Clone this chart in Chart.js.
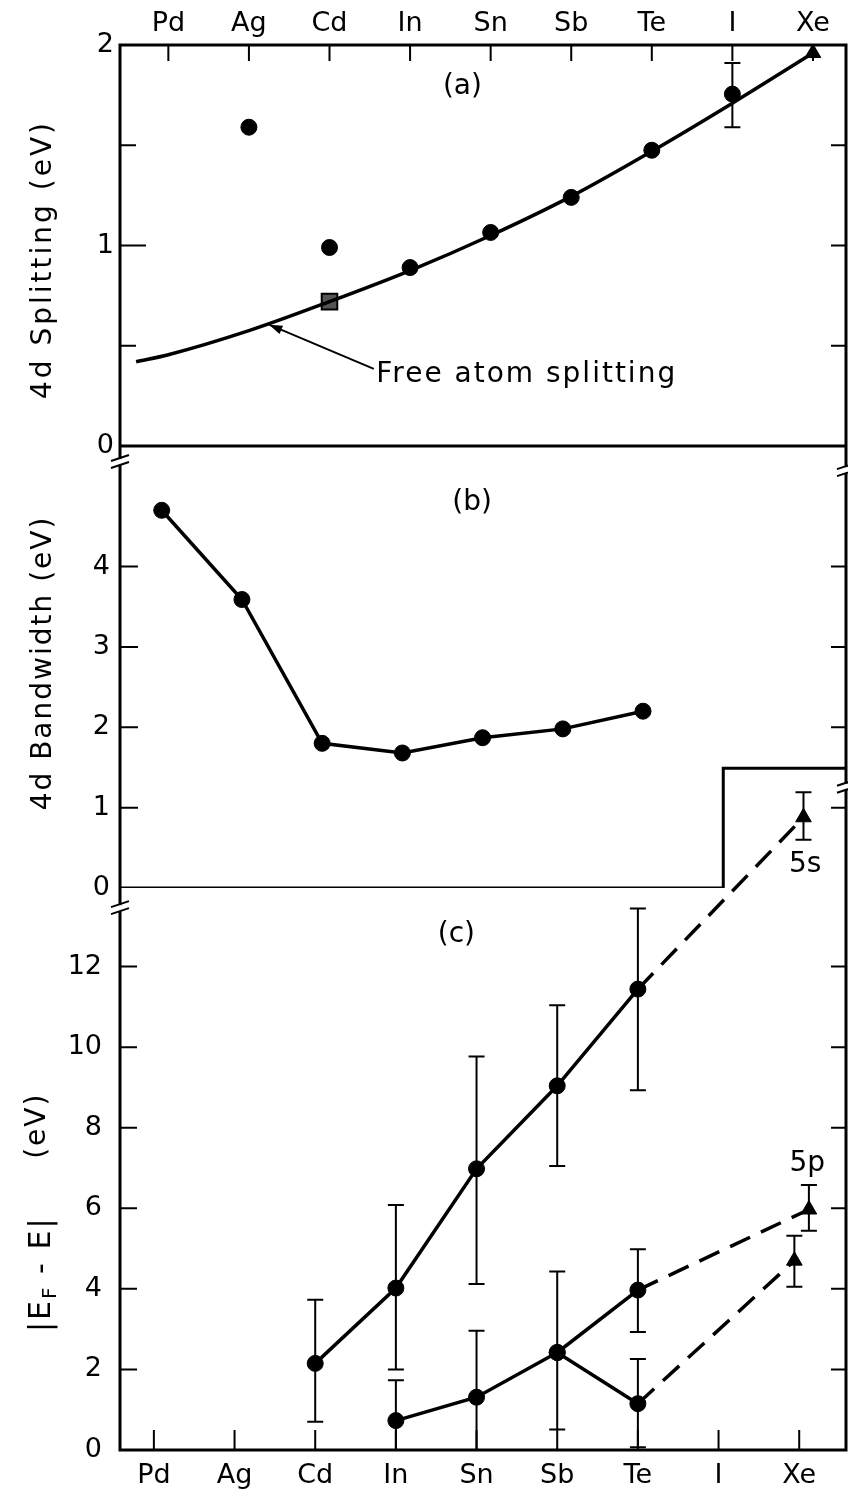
<!DOCTYPE html>
<html>
<head>
<meta charset="utf-8">
<title>4d splitting, 4d bandwidth and |EF - E|</title>
<script src="https://cdn.jsdelivr.net/npm/chart.js@4.4.1/dist/chart.umd.min.js"></script>
<style>
  html, body { margin: 0; padding: 0; background: #fff; overflow: hidden; }
  #wrap { width: 848px; height: 1496px; }
  canvas { display: block; }
</style>
</head>
<body>
<div id="wrap"><canvas id="chart"></canvas></div>
<script>
/* ─────────────────────────────────────────────
   DATA
───────────────────────────────────────────── */
const elements = ['Pd', 'Ag', 'Cd', 'In', 'Sn', 'Sb', 'Te', 'I', 'Xe'];

// (a) 4d splitting, eV
const splitX    = [1, 2, 3, 4, 5, 6, 7];
const splitY    = [1.59, 0.99, 0.89, 1.065, 1.24, 1.475, 1.755];
const splitLo   = [null, null, null, null, null, null, 1.59];
const splitHi   = [null, null, null, null, null, null, 1.91];
const cdSquareX = [2];
const cdSquareY = [0.72];
const xeSplitX  = [8];
const xeSplitY  = [1.96];
const freeAtomX = [-0.4, 0, 1, 2, 3, 4, 5, 6, 7, 8];
const freeAtomY = [0.42, 0.455, 0.575, 0.72, 0.875, 1.05, 1.245, 1.47, 1.71, 1.96];

// (b) 4d bandwidth, eV
const bandX  = [0, 1, 2, 3, 4, 5, 6];
const bandY  = [4.70, 3.59, 1.80, 1.68, 1.87, 1.98, 2.20];
const xe5sX  = [8];
const xe5sY  = [0.88];
const xe5sLo = [0.60];
const xe5sHi = [1.19];
const edgeX  = [-1, 7, 7, 9];
const edgeY  = [0, 0, 1.49, 1.49];

// (c) |EF - E|, eV
const upperX   = [2, 3, 4, 5, 6];
const upperY   = [2.15, 4.02, 6.98, 9.04, 11.44];
const upperLo  = [0.70, 2.00, 4.12, 7.05, 8.93];
const upperHi  = [3.73, 6.08, 9.77, 11.04, 13.44];
const lowerX   = [3, 4, 5, 6];
const lowerY   = [0.73, 1.31, 2.42, 1.15];
const lowerLo  = [-0.27, -0.34, 0.51, 0.07];
const lowerHi  = [1.73, 2.96, 4.43, 2.26];
const branchX  = [5, 6];
const branchY  = [2.42, 3.97];
const branchLo = [null, 2.93];
const branchHi = [null, 4.98];
const xe5pX    = [8.12, 7.94];
const xe5pY    = [5.97, 4.70];
const xe5pLo   = [5.44, 4.05];
const xe5pHi   = [6.58, 5.32];

/* ─────────────────────────────────────────────
   STYLE
───────────────────────────────────────────── */
const INK = '#000';
const FONT = '"DejaVu Sans", sans-serif';
const DASH = [22, 12];
const LINE = 3.5;

const notes = [
  { text: '(a)', x: 3.65, y: 1.79, xAxis: 'xTop', yAxis: 'yA' },
  { text: '(b)', x: 3.87, y: 4.80, xAxis: 'xMid', yAxis: 'yB' },
  { text: '(c)', x: 3.75, y: 12.8, xAxis: 'x', yAxis: 'yC' },
  { text: '5s', x: 8.02, y: 0.29, xAxis: 'xMid', yAxis: 'yB' },
  { text: '5p', x: 8.10, y: 7.10, xAxis: 'x', yAxis: 'yC' },
  { text: 'Free atom splitting', x: 2.58, y: 0.355, xAxis: 'xTop', yAxis: 'yA', align: 'left', spacing: '2px' },
];
const arrow = { from: [2.55, 0.385], to: [1.25, 0.605], xAxis: 'xTop', yAxis: 'yA' };
const breaks = [
  { side: 'left', axis: 'yB', at: 5.3 },
  { side: 'left', axis: 'yC', at: 13.45 },
  { side: 'right', axis: 'yB', at: 5.2 },
  { side: 'right', axis: 'yB', at: 1.26 },
];

/* ─────────────────────────────────────────────
   HELPERS
───────────────────────────────────────────── */
const pts = (xs, ys) => xs.map((x, i) => ({ x, y: ys[i] }));

function marks(xs, ys, extra) {
  return Object.assign({
    data: pts(xs, ys),
    showLine: false,
    pointStyle: 'circle',
    pointRadius: 8,
    pointBackgroundColor: INK,
    pointBorderColor: INK,
    pointBorderWidth: 1,
    borderColor: INK,
    borderWidth: LINE,
  }, extra);
}

function drawBreak(ctx, x, y) {
  ctx.save();
  ctx.fillStyle = '#fff';
  ctx.fillRect(x - 3, y - 3, 6, 6);
  ctx.strokeStyle = INK;
  ctx.lineWidth = 2;
  ctx.beginPath();
  ctx.moveTo(x - 9, y - 1); ctx.lineTo(x + 9, y - 7);
  ctx.moveTo(x - 9, y + 6); ctx.lineTo(x + 9, y);
  ctx.stroke();
  ctx.restore();
}

const panelPlugin = {
  id: 'panels',
  beforeDatasetsDraw(chart) {
    const { ctx, chartArea: a, scales } = chart;
    ctx.save();
    ctx.beginPath();
    ctx.rect(a.left, a.top, a.right - a.left, a.bottom - a.top);
    ctx.clip();
    ctx.strokeStyle = INK;

    // error bars
    ctx.lineWidth = 2;
    chart.data.datasets.forEach((ds, i) => {
      if (!ds.errLo) return;
      const ys = scales[ds.yAxisID];
      chart.getDatasetMeta(i).data.forEach((pt, j) => {
        if (ds.errLo[j] == null) return;
        const y1 = ys.getPixelForValue(ds.errLo[j]);
        const y2 = ys.getPixelForValue(ds.errHi[j]);
        ctx.beginPath();
        ctx.moveTo(pt.x, y1); ctx.lineTo(pt.x, y2);
        ctx.moveTo(pt.x - 8, y1); ctx.lineTo(pt.x + 8, y1);
        ctx.moveTo(pt.x - 8, y2); ctx.lineTo(pt.x + 8, y2);
        ctx.stroke();
      });
    });

    // dashed link from Te (c) up to the Xe 5s level (b)
    ctx.lineWidth = LINE;
    ctx.setLineDash(DASH);
    ctx.beginPath();
    ctx.moveTo(scales.x.getPixelForValue(upperX[4]), scales.yC.getPixelForValue(upperY[4]));
    ctx.lineTo(scales.xMid.getPixelForValue(xe5sX[0]), scales.yB.getPixelForValue(xe5sY[0]));
    ctx.stroke();
    ctx.restore();
  },
  afterDraw(chart) {
    const { ctx, chartArea: a, scales } = chart;
    ctx.save();
    ctx.strokeStyle = INK;
    ctx.fillStyle = INK;

    // frame + (a)/(b) divider
    ctx.lineWidth = 3;
    ctx.beginPath();
    ctx.rect(a.left, a.top, a.right - a.left, a.bottom - a.top);
    const y0 = scales.yA.getPixelForValue(0);
    ctx.moveTo(a.left, y0); ctx.lineTo(a.right, y0);
    ctx.stroke();

    // inward tick marks
    ctx.lineWidth = 2;
    ctx.beginPath();
    const lens = { yA: [26, 16], yB: [18, 18], yC: [17, 17] };
    ['yA', 'yB', 'yC'].forEach((id) => {
      const s = scales[id];
      s.ticks.forEach((t) => {
        if (t.value <= s.min || t.value >= s.max) return;
        const y = s.getPixelForValue(t.value);
        const len = Number.isInteger(t.value) ? lens[id][0] : lens[id][1];
        ctx.moveTo(a.left, y); ctx.lineTo(a.left + len, y);
        ctx.moveTo(a.right, y); ctx.lineTo(a.right - 15, y);
      });
    });
    scales.xTop.ticks.forEach((t) => {
      const x = scales.xTop.getPixelForValue(t.value);
      ctx.moveTo(x, a.top); ctx.lineTo(x, a.top + 16);
    });
    scales.x.ticks.forEach((t) => {
      const x = scales.x.getPixelForValue(t.value);
      ctx.moveTo(x, a.bottom); ctx.lineTo(x, a.bottom - 20);
    });
    ctx.stroke();

    // axis breaks
    breaks.forEach((b) => {
      drawBreak(ctx, b.side === 'left' ? a.left : a.right, scales[b.axis].getPixelForValue(b.at));
    });

    // annotations
    ctx.font = `28px ${FONT}`;
    ctx.textBaseline = 'middle';
    notes.forEach((n) => {
      ctx.textAlign = n.align || 'center';
      ctx.letterSpacing = n.spacing || '0px';
      ctx.fillText(n.text, scales[n.xAxis].getPixelForValue(n.x), scales[n.yAxis].getPixelForValue(n.y));
    });
    ctx.letterSpacing = '0px';

    // arrow to the free atom curve
    const ax = scales[arrow.xAxis], ay = scales[arrow.yAxis];
    const x1 = ax.getPixelForValue(arrow.from[0]), y1 = ay.getPixelForValue(arrow.from[1]);
    const x2 = ax.getPixelForValue(arrow.to[0]),   y2 = ay.getPixelForValue(arrow.to[1]);
    const ang = Math.atan2(y2 - y1, x2 - x1);
    ctx.lineWidth = 2;
    ctx.beginPath(); ctx.moveTo(x1, y1); ctx.lineTo(x2, y2); ctx.stroke();
    ctx.beginPath();
    ctx.moveTo(x2, y2);
    ctx.lineTo(x2 - 14 * Math.cos(ang - 0.33), y2 - 14 * Math.sin(ang - 0.33));
    ctx.lineTo(x2 - 14 * Math.cos(ang + 0.33), y2 - 14 * Math.sin(ang + 0.33));
    ctx.closePath(); ctx.fill();

    // rotated axis titles
    const tx = a.left - 76;
    ctx.textAlign = 'center';
    ctx.textBaseline = 'middle';
    ctx.font = `28px ${FONT}`;
    [['4d Splitting (eV)', 'yA', 0.93, '3px'], ['4d Bandwidth (eV)', 'yB', 2.8, '2px']].forEach(([txt, id, at, sp]) => {
      ctx.save();
      ctx.letterSpacing = sp;
      ctx.translate(tx, scales[id].getPixelForValue(at));
      ctx.rotate(-Math.PI / 2);
      ctx.fillText(txt, 0, 0);
      ctx.restore();
    });

    // |E_F - E|   (eV) with subscript F
    ctx.save();
    ctx.translate(tx - 2, scales.yC.getPixelForValue(5.9));
    ctx.rotate(-Math.PI / 2);
    ctx.textAlign = 'left';
    ctx.letterSpacing = '2px';
    const parts = [['|E', 30, 0], ['F', 20, 9], [' - E|', 30, 0], ['     ', 30, 0], ['(eV)', 28, -4]];
    const widths = parts.map(([t, sz]) => { ctx.font = `${sz}px ${FONT}`; return ctx.measureText(t).width; });
    let cx = -widths.reduce((s, w) => s + w, 0) / 2;
    parts.forEach(([t, sz, dy], i) => {
      ctx.font = `${sz}px ${FONT}`;
      ctx.fillText(t, cx, dy);
      cx += widths[i];
    });
    ctx.restore();

    ctx.restore();
  },
};

/* ─────────────────────────────────────────────
   CHART
───────────────────────────────────────────── */
const elementTicks = (scale) => { scale.ticks = elements.map((_, i) => ({ value: i })); };
const elementLabel = (v) => (Number.isInteger(v) ? elements[v] || '' : '');
const tickFont = { family: FONT, size: 27 };
const noSidePad = (h) => (s) => { s.height = h; s.paddingLeft = 0; s.paddingRight = 0; };

new Chart(document.getElementById('chart'), {
  type: 'scatter',
  data: {
    datasets: [
      // (a)
      marks(freeAtomX, freeAtomY, { xAxisID: 'xTop', yAxisID: 'yA', showLine: true, pointRadius: 0, cubicInterpolationMode: 'monotone' }),
      marks(splitX, splitY, { xAxisID: 'xTop', yAxisID: 'yA', errLo: splitLo, errHi: splitHi }),
      marks(cdSquareX, cdSquareY, { xAxisID: 'xTop', yAxisID: 'yA', pointStyle: 'rect', pointRadius: 11, pointBackgroundColor: '#555', pointBorderWidth: 2 }),
      marks(xeSplitX, xeSplitY, { xAxisID: 'xTop', yAxisID: 'yA', pointStyle: 'triangle', pointRadius: 9, clip: false }),
      // (b)
      marks(edgeX, edgeY, { xAxisID: 'xMid', yAxisID: 'yB', showLine: true, pointRadius: 0, borderWidth: 3 }),
      marks(bandX, bandY, { xAxisID: 'xMid', yAxisID: 'yB', showLine: true }),
      marks(xe5sX, xe5sY, { xAxisID: 'xMid', yAxisID: 'yB', pointStyle: 'triangle', pointRadius: 9, errLo: xe5sLo, errHi: xe5sHi }),
      // (c)
      marks(upperX, upperY, { xAxisID: 'x', yAxisID: 'yC', showLine: true, errLo: upperLo, errHi: upperHi }),
      marks(lowerX, lowerY, { xAxisID: 'x', yAxisID: 'yC', showLine: true, errLo: lowerLo, errHi: lowerHi }),
      marks(branchX, branchY, { xAxisID: 'x', yAxisID: 'yC', showLine: true, errLo: branchLo, errHi: branchHi }),
      {
        data: [{ x: branchX[1], y: branchY[1] }, { x: xe5pX[0], y: xe5pY[0] }],
        xAxisID: 'x', yAxisID: 'yC', showLine: true, pointRadius: 0,
        borderColor: INK, borderWidth: LINE, borderDash: DASH,
      },
      {
        data: [{ x: lowerX[3], y: lowerY[3] }, { x: xe5pX[1], y: xe5pY[1] }],
        xAxisID: 'x', yAxisID: 'yC', showLine: true, pointRadius: 0,
        borderColor: INK, borderWidth: LINE, borderDash: DASH,
      },
      marks(xe5pX, xe5pY, { xAxisID: 'x', yAxisID: 'yC', pointStyle: 'triangle', pointRadius: 9, errLo: xe5pLo, errHi: xe5pHi }),
    ],
  },
  options: {
    responsive: true,
    maintainAspectRatio: false,
    animation: false,
    events: [],
    layout: { autoPadding: false, padding: { right: 2 } },
    plugins: { legend: { display: false }, tooltip: { enabled: false } },
    scales: {
      x: {
        type: 'linear', position: 'bottom', min: -0.42, max: 8.58,
        afterBuildTicks: elementTicks,
        afterFit: noSidePad(46),
        grid: { display: false, drawTicks: false }, border: { display: false },
        ticks: { callback: elementLabel, autoSkip: false, maxRotation: 0, padding: 10, color: INK, font: tickFont },
      },
      xTop: {
        type: 'linear', position: 'top', min: -0.6, max: 8.41,
        afterBuildTicks: elementTicks,
        afterFit: noSidePad(45),
        grid: { display: false, drawTicks: false }, border: { display: false },
        ticks: { callback: elementLabel, autoSkip: false, maxRotation: 0, padding: 5, color: INK, font: tickFont },
      },
      xMid: { type: 'linear', position: 'bottom', display: false, min: -0.52, max: 8.53 },
      yC: {
        position: 'left', stack: 'panels', stackWeight: 562, min: 0, max: 13.95,
        afterBuildTicks: (s) => { s.ticks = [0, 2, 4, 6, 8, 10, 12].map((v) => ({ value: v })); },
        afterFit: (s) => { s.width = 120; },
        grid: { display: false, drawTicks: false }, border: { display: false },
        ticks: { autoSkip: false, padding: 18, color: INK, font: tickFont },
      },
      yB: {
        position: 'left', stack: 'panels', stackWeight: 442, min: 0, max: 5.5,
        afterBuildTicks: (s) => { s.ticks = [0, 1, 2, 3, 4].map((v) => ({ value: v })); },
        afterFit: (s) => { s.width = 120; },
        grid: { display: false, drawTicks: false }, border: { display: false },
        ticks: { autoSkip: false, padding: 10, color: INK, font: tickFont },
      },
      yA: {
        position: 'left', stack: 'panels', stackWeight: 401, min: 0, max: 2,
        afterBuildTicks: (s) => { s.ticks = [0, 0.5, 1, 1.5, 2].map((v) => ({ value: v })); },
        afterFit: (s) => { s.width = 120; },
        grid: { display: false, drawTicks: false }, border: { display: false },
        ticks: { autoSkip: false, padding: 6, color: INK, font: tickFont, callback: (v) => (Number.isInteger(v) ? String(v) : '') },
      },
    },
  },
  plugins: [panelPlugin],
});
</script>
</body>
</html>
